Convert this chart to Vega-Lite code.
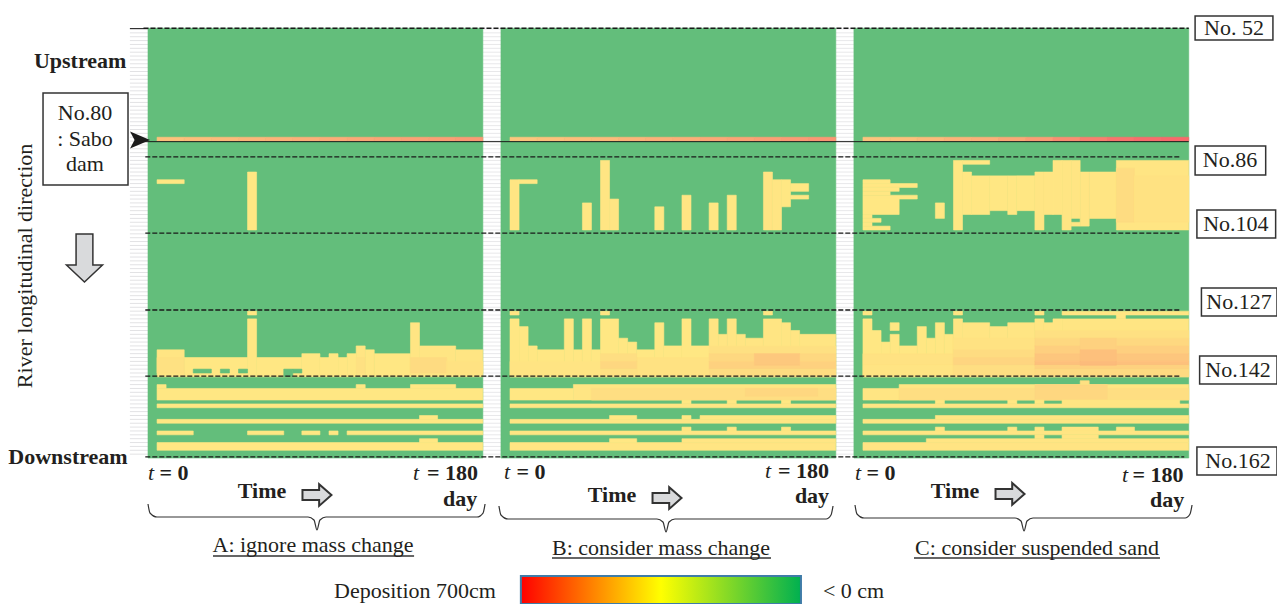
{"$schema":"https://vega.github.io/schema/vega-lite/v6.json","width":1277,"height":604,"padding":0,"autosize":{"type":"none"},"background":"white","config":{"view":{"stroke":null},"axis":{"disable":true},"legend":{"disable":true},"text":{"font":"Liberation Serif","fontSize":22,"color":"#231f20"}},
"datasets":{
"rows":[{"n":52},{"n":53},{"n":54},{"n":55},{"n":56},{"n":57},{"n":58},{"n":59},{"n":60},{"n":61},{"n":62},{"n":63},{"n":64},{"n":65},{"n":66},{"n":67},{"n":68},{"n":69},{"n":70},{"n":71},{"n":72},{"n":73},{"n":74},{"n":75},{"n":76},{"n":77},{"n":78},{"n":79},{"n":80},{"n":81},{"n":82},{"n":83},{"n":84},{"n":85},{"n":86},{"n":87},{"n":88},{"n":89},{"n":90},{"n":91},{"n":92},{"n":93},{"n":94},{"n":95},{"n":96},{"n":97},{"n":98},{"n":99},{"n":100},{"n":101},{"n":102},{"n":103},{"n":104},{"n":105},{"n":106},{"n":107},{"n":108},{"n":109},{"n":110},{"n":111},{"n":112},{"n":113},{"n":114},{"n":115},{"n":116},{"n":117},{"n":118},{"n":119},{"n":120},{"n":121},{"n":122},{"n":123},{"n":124},{"n":125},{"n":126},{"n":127},{"n":128},{"n":129},{"n":130},{"n":131},{"n":132},{"n":133},{"n":134},{"n":135},{"n":136},{"n":137},{"n":138},{"n":139},{"n":140},{"n":141},{"n":142},{"n":143},{"n":144},{"n":145},{"n":146},{"n":147},{"n":148},{"n":149},{"n":150},{"n":151},{"n":152},{"n":153},{"n":154},{"n":155},{"n":156},{"n":157},{"n":158},{"n":159},{"n":160},{"n":161},{"n":162}],
"cells":[
{"x":0,"x2":37,"n":51.8,"n2":163,"v":0},{"x":39,"x2":76,"n":51.8,"n2":163,"v":0},{"x":78,"x2":115,"n":51.8,"n2":163,"v":0},
{"x":1,"x2":4,"n":80,"n2":81,"v":460},{"x":4,"x2":7,"n":80,"n2":81,"v":470},{"x":7,"x2":10,"n":80,"n2":81,"v":480},{"x":10,"x2":13,"n":80,"n2":81,"v":490},{"x":13,"x2":16,"n":80,"n2":81,"v":500},{"x":16,"x2":19,"n":80,"n2":81,"v":510},{"x":19,"x2":22,"n":80,"n2":81,"v":520},{"x":22,"x2":25,"n":80,"n2":81,"v":530},{"x":25,"x2":28,"n":80,"n2":81,"v":540},{"x":28,"x2":31,"n":80,"n2":81,"v":550},{"x":31,"x2":34,"n":80,"n2":81,"v":555},{"x":34,"x2":37,"n":80,"n2":81,"v":565},
{"x":40,"x2":43,"n":80,"n2":81,"v":450},{"x":43,"x2":46,"n":80,"n2":81,"v":460},{"x":46,"x2":49,"n":80,"n2":81,"v":470},{"x":49,"x2":52,"n":80,"n2":81,"v":480},{"x":52,"x2":55,"n":80,"n2":81,"v":495},{"x":55,"x2":58,"n":80,"n2":81,"v":505},{"x":58,"x2":61,"n":80,"n2":81,"v":515},{"x":61,"x2":64,"n":80,"n2":81,"v":530},{"x":64,"x2":67,"n":80,"n2":81,"v":540},{"x":67,"x2":70,"n":80,"n2":81,"v":555},{"x":70,"x2":73,"n":80,"n2":81,"v":565},{"x":73,"x2":76,"n":80,"n2":81,"v":575},
{"x":79,"x2":82,"n":80,"n2":81,"v":455},{"x":82,"x2":85,"n":80,"n2":81,"v":465},{"x":85,"x2":88,"n":80,"n2":81,"v":480},{"x":88,"x2":91,"n":80,"n2":81,"v":500},{"x":91,"x2":94,"n":80,"n2":81,"v":510},{"x":94,"x2":97,"n":80,"n2":81,"v":530},{"x":97,"x2":100,"n":80,"n2":81,"v":560},{"x":100,"x2":103,"n":80,"n2":81,"v":600},{"x":103,"x2":106,"n":80,"n2":81,"v":640},{"x":106,"x2":109,"n":80,"n2":81,"v":670},{"x":109,"x2":112,"n":80,"n2":81,"v":690},{"x":112,"x2":115,"n":80,"n2":81,"v":700},
{"x":1,"x2":4,"n":91,"n2":92,"v":360},{"x":11,"x2":12,"n":89,"n2":104,"v":360},
{"x":1,"x2":4,"n":135,"n2":142,"v":365},{"x":4,"x2":11,"n":137,"n2":142,"v":360},{"x":11,"x2":12,"n":127,"n2":142,"v":360},{"x":11,"x2":12,"n":125,"n2":126,"v":360},{"x":12,"x2":17,"n":137,"n2":142,"v":360},{"x":17,"x2":19,"n":136,"n2":142,"v":360},{"x":19,"x2":20,"n":137,"n2":142,"v":360},{"x":20,"x2":21,"n":136,"n2":142,"v":360},{"x":21,"x2":22,"n":137,"n2":142,"v":360},{"x":22,"x2":23,"n":136,"n2":142,"v":360},{"x":23,"x2":24,"n":134,"n2":142,"v":365},{"x":24,"x2":25,"n":135,"n2":142,"v":360},{"x":25,"x2":29,"n":136,"n2":142,"v":360},{"x":29,"x2":30,"n":128,"n2":142,"v":365},{"x":30,"x2":34,"n":134,"n2":142,"v":365},{"x":34,"x2":37,"n":135,"n2":142,"v":365},
{"x":1,"x2":4,"n":137,"n2":141,"v":378},{"x":23,"x2":24,"n":137,"n2":141,"v":378},{"x":29,"x2":33,"n":137,"n2":141,"v":392},{"x":33,"x2":37,"n":138,"n2":141,"v":375},
{"x":5,"x2":7,"n":140,"n2":141,"v":0},{"x":8,"x2":9,"n":140,"n2":141,"v":0},{"x":10,"x2":11,"n":140,"n2":141,"v":0},{"x":15,"x2":16,"n":140,"n2":142,"v":0},{"x":16,"x2":17,"n":140,"n2":141,"v":0},
{"x":1,"x2":37,"n":145,"n2":148,"v":360},{"x":1,"x2":2,"n":144,"n2":145,"v":360},{"x":23,"x2":24,"n":144,"n2":145,"v":360},{"x":29,"x2":34,"n":144,"n2":145,"v":360},{"x":1,"x2":37,"n":149,"n2":150,"v":360},{"x":1,"x2":37,"n":153,"n2":154,"v":360},{"x":30,"x2":32,"n":152,"n2":153,"v":360},{"x":1,"x2":5,"n":156,"n2":157,"v":360},{"x":11,"x2":15,"n":156,"n2":157,"v":360},{"x":17,"x2":19,"n":156,"n2":157,"v":360},{"x":20,"x2":21,"n":156,"n2":157,"v":360},{"x":22,"x2":37,"n":156,"n2":157,"v":360},{"x":1,"x2":37,"n":159,"n2":161,"v":360},{"x":30,"x2":32,"n":158,"n2":159,"v":360},
{"x":40,"x2":41,"n":91,"n2":104,"v":365},{"x":41,"x2":43,"n":91,"n2":92,"v":360},{"x":48,"x2":49,"n":97,"n2":104,"v":360},{"x":50,"x2":51,"n":86,"n2":104,"v":365},{"x":51,"x2":52,"n":96,"n2":104,"v":365},{"x":56,"x2":57,"n":98,"n2":104,"v":360},{"x":59,"x2":60,"n":95,"n2":104,"v":365},{"x":62,"x2":63,"n":97,"n2":104,"v":360},{"x":64,"x2":65,"n":95,"n2":104,"v":360},{"x":68,"x2":69,"n":89,"n2":104,"v":370},{"x":69,"x2":70,"n":91,"n2":104,"v":365},{"x":70,"x2":71,"n":91,"n2":98,"v":360},{"x":71,"x2":73,"n":92,"n2":94,"v":360},{"x":71,"x2":73,"n":95,"n2":96,"v":360},
{"x":40,"x2":41,"n":127,"n2":142,"v":360},{"x":40,"x2":41,"n":125,"n2":126,"v":365},{"x":41,"x2":42,"n":129,"n2":142,"v":360},{"x":42,"x2":43,"n":134,"n2":142,"v":360},{"x":43,"x2":46,"n":135,"n2":142,"v":360},{"x":46,"x2":47,"n":127,"n2":142,"v":360},{"x":47,"x2":48,"n":135,"n2":142,"v":360},{"x":48,"x2":49,"n":127,"n2":142,"v":360},{"x":49,"x2":50,"n":135,"n2":142,"v":360},{"x":50,"x2":52,"n":127,"n2":142,"v":360},{"x":50,"x2":51,"n":125,"n2":126,"v":365},{"x":52,"x2":53,"n":132,"n2":142,"v":360},{"x":53,"x2":54,"n":133,"n2":142,"v":360},{"x":54,"x2":56,"n":135,"n2":142,"v":360},{"x":56,"x2":57,"n":128,"n2":142,"v":360},{"x":57,"x2":59,"n":134,"n2":142,"v":360},{"x":59,"x2":60,"n":127,"n2":142,"v":360},{"x":60,"x2":62,"n":134,"n2":142,"v":360},{"x":62,"x2":63,"n":127,"n2":142,"v":365},{"x":63,"x2":64,"n":131,"n2":142,"v":365},{"x":64,"x2":65,"n":127,"n2":142,"v":365},{"x":65,"x2":66,"n":131,"n2":142,"v":365},{"x":66,"x2":68,"n":132,"n2":142,"v":365},{"x":68,"x2":70,"n":127,"n2":142,"v":365},{"x":68,"x2":69,"n":125,"n2":126,"v":365},{"x":70,"x2":71,"n":128,"n2":142,"v":365},{"x":71,"x2":72,"n":130,"n2":142,"v":365},{"x":72,"x2":76,"n":131,"n2":142,"v":365},
{"x":40,"x2":50,"n":138,"n2":142,"v":370},{"x":54,"x2":62,"n":137,"n2":142,"v":375},{"x":50,"x2":54,"n":136,"n2":138,"v":385},{"x":50,"x2":54,"n":138,"n2":140,"v":405},{"x":50,"x2":54,"n":140,"n2":142,"v":380},{"x":62,"x2":76,"n":134,"n2":136,"v":380},{"x":62,"x2":76,"n":136,"n2":138,"v":400},{"x":62,"x2":76,"n":138,"n2":140,"v":420},{"x":62,"x2":76,"n":140,"n2":142,"v":390},{"x":67,"x2":72,"n":136,"n2":139,"v":445},
{"x":40,"x2":47,"n":145,"n2":148,"v":360},{"x":47,"x2":76,"n":144,"n2":148,"v":365},{"x":49,"x2":76,"n":145,"n2":148,"v":385},{"x":66,"x2":74,"n":145,"n2":147,"v":405},{"x":59,"x2":60,"n":148,"n2":149,"v":360},{"x":64,"x2":65,"n":148,"n2":149,"v":360},{"x":70,"x2":71,"n":148,"n2":149,"v":360},{"x":40,"x2":76,"n":149,"n2":150,"v":365},{"x":40,"x2":76,"n":153,"n2":154,"v":365},{"x":51,"x2":54,"n":152,"n2":153,"v":360},{"x":59,"x2":60,"n":152,"n2":153,"v":360},{"x":61,"x2":76,"n":152,"n2":153,"v":360},{"x":40,"x2":76,"n":156,"n2":157,"v":365},{"x":59,"x2":60,"n":155,"n2":156,"v":360},{"x":64,"x2":65,"n":155,"n2":156,"v":360},{"x":70,"x2":71,"n":155,"n2":156,"v":360},{"x":40,"x2":76,"n":159,"n2":161,"v":365},{"x":51,"x2":54,"n":158,"n2":159,"v":360},{"x":59,"x2":76,"n":158,"n2":159,"v":365},
{"x":79,"x2":82,"n":91,"n2":92,"v":360},{"x":79,"x2":85,"n":92,"n2":93,"v":360},{"x":79,"x2":83,"n":93,"n2":94,"v":360},{"x":79,"x2":82,"n":94,"n2":95,"v":360},{"x":79,"x2":85,"n":95,"n2":96,"v":360},{"x":79,"x2":83,"n":96,"n2":100,"v":360},{"x":79,"x2":80,"n":100,"n2":101,"v":360},{"x":79,"x2":81,"n":101,"n2":102,"v":360},{"x":79,"x2":80,"n":102,"n2":103,"v":360},{"x":79,"x2":82,"n":103,"n2":104,"v":360},{"x":87,"x2":88,"n":97,"n2":101,"v":360},
{"x":89,"x2":90,"n":86,"n2":104,"v":360},{"x":90,"x2":93,"n":86,"n2":87,"v":360},{"x":90,"x2":91,"n":89,"n2":100,"v":360},{"x":91,"x2":93,"n":90,"n2":100,"v":360},{"x":93,"x2":95,"n":90,"n2":99,"v":360},{"x":95,"x2":96,"n":90,"n2":100,"v":360},{"x":96,"x2":98,"n":90,"n2":99,"v":360},{"x":98,"x2":99,"n":89,"n2":104,"v":365},{"x":99,"x2":100,"n":89,"n2":100,"v":365},{"x":100,"x2":101,"n":86,"n2":100,"v":365},{"x":101,"x2":102,"n":86,"n2":104,"v":365},{"x":102,"x2":103,"n":86,"n2":101,"v":365},{"x":102,"x2":103,"n":102,"n2":103,"v":365},{"x":103,"x2":104,"n":89,"n2":103,"v":365},{"x":104,"x2":107,"n":89,"n2":101,"v":365},{"x":107,"x2":115,"n":86,"n2":104,"v":365},{"x":107,"x2":109,"n":88,"n2":102,"v":390},{"x":109,"x2":115,"n":90,"n2":102,"v":375},
{"x":79,"x2":80,"n":127,"n2":142,"v":360},{"x":79,"x2":80,"n":125,"n2":126,"v":365},{"x":80,"x2":81,"n":130,"n2":142,"v":360},{"x":81,"x2":82,"n":133,"n2":142,"v":360},{"x":82,"x2":83,"n":128,"n2":130,"v":360},{"x":82,"x2":83,"n":131,"n2":142,"v":360},{"x":83,"x2":85,"n":134,"n2":142,"v":360},{"x":85,"x2":86,"n":129,"n2":142,"v":360},{"x":86,"x2":87,"n":132,"n2":142,"v":360},{"x":87,"x2":88,"n":128,"n2":142,"v":360},{"x":88,"x2":89,"n":131,"n2":142,"v":360},{"x":89,"x2":90,"n":127,"n2":142,"v":365},{"x":89,"x2":90,"n":125,"n2":126,"v":365},{"x":90,"x2":93,"n":128,"n2":142,"v":365},{"x":93,"x2":95,"n":129,"n2":142,"v":365},{"x":95,"x2":98,"n":128,"n2":142,"v":365},{"x":98,"x2":99,"n":127,"n2":142,"v":365},{"x":98,"x2":99,"n":125,"n2":126,"v":365},{"x":99,"x2":100,"n":128,"n2":142,"v":365},{"x":100,"x2":101,"n":127,"n2":142,"v":365},{"x":101,"x2":115,"n":127,"n2":142,"v":365},{"x":101,"x2":115,"n":125,"n2":126,"v":365},{"x":107,"x2":108,"n":126,"n2":127,"v":365},
{"x":79,"x2":89,"n":136,"n2":139,"v":375},{"x":79,"x2":89,"n":139,"n2":142,"v":370},{"x":89,"x2":98,"n":132,"n2":135,"v":375},{"x":89,"x2":98,"n":135,"n2":137,"v":390},{"x":89,"x2":98,"n":137,"n2":139,"v":410},{"x":89,"x2":98,"n":139,"n2":142,"v":385},{"x":98,"x2":115,"n":130,"n2":132,"v":380},{"x":98,"x2":115,"n":132,"n2":134,"v":400},{"x":98,"x2":115,"n":134,"n2":136,"v":425},{"x":98,"x2":115,"n":136,"n2":138,"v":450},{"x":98,"x2":115,"n":138,"n2":139,"v":465},{"x":98,"x2":115,"n":139,"n2":140,"v":420},{"x":98,"x2":115,"n":140,"n2":142,"v":395},{"x":103,"x2":107,"n":132,"n2":135,"v":420},{"x":103,"x2":107,"n":135,"n2":138,"v":465},{"x":103,"x2":107,"n":138,"n2":139,"v":480},
{"x":79,"x2":83,"n":145,"n2":148,"v":365},{"x":83,"x2":115,"n":144,"n2":148,"v":365},{"x":83,"x2":115,"n":145,"n2":148,"v":385},{"x":98,"x2":106,"n":144,"n2":148,"v":405},{"x":103,"x2":104,"n":143,"n2":144,"v":380},
{"x":87,"x2":88,"n":148,"n2":149,"v":360},{"x":95,"x2":96,"n":148,"n2":149,"v":360},{"x":98,"x2":99,"n":148,"n2":149,"v":360},{"x":101,"x2":114,"n":148,"n2":149,"v":365},{"x":79,"x2":115,"n":149,"n2":150,"v":365},{"x":87,"x2":115,"n":152,"n2":153,"v":365},{"x":79,"x2":115,"n":153,"n2":154,"v":365},{"x":87,"x2":88,"n":155,"n2":156,"v":360},{"x":95,"x2":96,"n":155,"n2":156,"v":360},{"x":98,"x2":99,"n":155,"n2":156,"v":360},{"x":101,"x2":105,"n":155,"n2":156,"v":365},{"x":107,"x2":109,"n":155,"n2":156,"v":360},{"x":79,"x2":115,"n":156,"n2":157,"v":365},{"x":98,"x2":99,"n":157,"n2":158,"v":365},{"x":101,"x2":105,"n":157,"n2":158,"v":365},{"x":86,"x2":115,"n":158,"n2":159,"v":365},{"x":79,"x2":115,"n":159,"n2":161,"v":370}
],
"boxes":[{"x":-11.6,"x2":-2.21,"n":68.56,"n2":92.36},{"x":115.7,"x2":124.3,"n":48.64,"n2":54.85},{"x":115.7,"x2":123.5,"n":82.27,"n2":89.78},{"x":115.9,"x2":124.6,"n":98.83,"n2":106.08},{"x":116.4,"x2":124.75,"n":119.01,"n2":126.26},{"x":116.2,"x2":124.75,"n":136.6,"n2":143.85},{"x":115.9,"x2":124.75,"n":160.15,"n2":167.4}],
"dashes":[{"x":-0.5,"x2":115,"n":51.8},{"x":-0.3,"x2":114,"n":85.1},{"x":-0.3,"x2":114,"n":104.8},{"x":-0.3,"x2":114,"n":124.7},{"x":-0.3,"x2":114,"n":141.8},{"x":-0.3,"x2":114.5,"n":162.7}],
"solid":[{"x":-2,"x2":0,"n":51.9},{"x":-0.6,"x2":115,"n":81.15}],
"under":[{"x":7.18,"x2":29.4,"n":188.35},{"x":44.64,"x2":68.84,"n":188.87},{"x":84.64,"x2":111.82,"n":188.87}],
"regular":[{"t":"No. 52","x":120.0,"n":51.74},{"t":"No.86","x":119.56,"n":85.9},{"t":"No.104","x":120.2,"n":102.45},{"t":"No.127","x":120.55,"n":122.6},{"t":"No.142","x":120.44,"n":140.2},{"t":"No.162","x":120.44,"n":163.8},{"t":"No.80","x":-6.96,"n":73.7},{"t":": Sabo","x":-6.96,"n":80.5},{"t":"dam","x":-6.96,"n":86.9},{"t":"A: ignore mass change","x":18.23,"n":185.5},{"t":"B: consider mass change","x":56.69,"n":186.28},{"t":"C: consider suspended sand","x":98.23,"n":186.28},{"t":"Deposition 700cm","x":29.5,"n":197.4},{"t":"< 0 cm","x":77.96,"n":197.4}],
"vertical":[{"t":"River longitudinal direction","x":-13.6,"n":113.3}],
"bold":[{"t":"Upstream","x":-7.5,"n":60.3},{"t":"Downstream","x":-8.84,"n":162.7},{"t":"= 0","x":2.87,"n":166.88},{"t":"= 180","x":33.65,"n":166.88},{"t":"day","x":34.48,"n":173.6},{"t":"Time","x":12.6,"n":171.53},{"t":"= 0","x":42.32,"n":166.62},{"t":"= 180","x":72.43,"n":166.36},{"t":"day","x":73.37,"n":172.83},{"t":"Time","x":51.27,"n":172.57},{"t":"= 0","x":81.0,"n":166.88},{"t":"= 180","x":111.6,"n":167.4},{"t":"day","x":112.6,"n":173.86},{"t":"Time","x":89.17,"n":171.53}],
"italic":[{"t":"t","x":0.33,"n":166.88},{"t":"t","x":29.61,"n":166.88},{"t":"t","x":39.67,"n":166.62},{"t":"t","x":68.51,"n":166.36},{"t":"t","x":78.45,"n":166.88},{"t":"t","x":107.96,"n":167.4}],
"legendBar":[{"x":41.2,"x2":72.15,"n":193.5,"n2":200.77}],
"arrowsRight":[{"x":18.67,"n":172.57},{"x":57.35,"n":173.35},{"x":95.25,"n":172.3}],
"arrowDown":[{"x":-7.02,"n":111.25}],
"arrowDam":[{"x":-0.88,"n":80.72}],
"braces":[
{"b":"A","x":0,"n":174.9},{"b":"A","x":0.22,"n":177.23},{"b":"A","x":0.99,"n":178.26},{"b":"A","x":17.68,"n":178.26},{"b":"A","x":18.34,"n":179.04},{"b":"A","x":18.67,"n":181.62},{"b":"A","x":19.0,"n":179.04},{"b":"A","x":19.67,"n":178.26},{"b":"A","x":36.35,"n":178.26},{"b":"A","x":37.02,"n":177.23},{"b":"A","x":37.24,"n":174.9},
{"b":"B","x":38.78,"n":175.42},{"b":"B","x":39.0,"n":177.74},{"b":"B","x":39.78,"n":178.78},{"b":"B","x":56.24,"n":178.78},{"b":"B","x":56.9,"n":179.55},{"b":"B","x":57.24,"n":182.14},{"b":"B","x":57.57,"n":179.55},{"b":"B","x":58.23,"n":178.78},{"b":"B","x":74.92,"n":178.78},{"b":"B","x":75.47,"n":177.74},{"b":"B","x":75.69,"n":175.42},
{"b":"C","x":78.12,"n":175.16},{"b":"C","x":78.34,"n":177.48},{"b":"C","x":79.12,"n":178.52},{"b":"C","x":95.8,"n":178.52},{"b":"C","x":96.46,"n":179.3},{"b":"C","x":96.8,"n":181.88},{"b":"C","x":97.13,"n":179.3},{"b":"C","x":97.79,"n":178.52},{"b":"C","x":114.59,"n":178.52},{"b":"C","x":115.14,"n":177.48},{"b":"C","x":115.36,"n":175.16}]
},
"layer":[
{"data":{"name":"rows"},"mark":{"type":"rule","color":"#e2e2e4","strokeWidth":1},"encoding":{"x":{"datum":-2,"type":"quantitative","scale":{"domain":[-16.354,124.75],"range":[0,1277],"nice":false,"zero":false}},"x2":{"datum":0},"y":{"field":"n","type":"quantitative","scale":{"domain":[44.497,200.77],"range":[0,604],"nice":false,"zero":false}}}},
{"data":{"name":"rows"},"mark":{"type":"rule","color":"#e8e8ea","strokeWidth":1},"encoding":{"x":{"datum":37,"type":"quantitative"},"x2":{"datum":39},"y":{"field":"n","type":"quantitative"}}},
{"data":{"name":"rows"},"mark":{"type":"rule","color":"#e8e8ea","strokeWidth":1},"encoding":{"x":{"datum":76,"type":"quantitative"},"x2":{"datum":78},"y":{"field":"n","type":"quantitative"}}},
{"data":{"name":"cells"},"mark":{"type":"rect","strokeWidth":0.6},"encoding":{"x":{"field":"x","type":"quantitative"},"x2":{"field":"x2"},"y":{"field":"n","type":"quantitative"},"y2":{"field":"n2"},"color":{"field":"v","type":"quantitative","scale":{"domain":[0,350,700],"range":["#63BE7B","#FFEB84","#F8696B"],"interpolate":"rgb"}},"stroke":{"field":"v","type":"quantitative","scale":{"domain":[0,350,700],"range":["#63BE7B","#FFEB84","#F8696B"],"interpolate":"rgb"}}}},
{"data":{"name":"dashes"},"mark":{"type":"rule","color":"#1a1a1a","strokeWidth":1.3,"strokeDash":[5,2]},"encoding":{"x":{"field":"x","type":"quantitative"},"x2":{"field":"x2"},"y":{"field":"n","type":"quantitative"}}},
{"data":{"name":"solid"},"mark":{"type":"rule","color":"#1a1a1a","strokeWidth":1},"encoding":{"x":{"field":"x","type":"quantitative"},"x2":{"field":"x2"},"y":{"field":"n","type":"quantitative"}}},
{"data":{"name":"boxes"},"mark":{"type":"rect","fill":"white","stroke":"#333333","strokeWidth":1.5},"encoding":{"x":{"field":"x","type":"quantitative"},"x2":{"field":"x2"},"y":{"field":"n","type":"quantitative"},"y2":{"field":"n2"}}},
{"data":{"name":"under"},"mark":{"type":"rule","color":"#333333","strokeWidth":1.3},"encoding":{"x":{"field":"x","type":"quantitative"},"x2":{"field":"x2"},"y":{"field":"n","type":"quantitative"}}},
{"data":{"name":"braces"},"mark":{"type":"line","color":"#333333","strokeWidth":1.2,"interpolate":"monotone"},"encoding":{"x":{"field":"x","type":"quantitative"},"y":{"field":"n","type":"quantitative"},"detail":{"field":"b"}}},
{"data":{"name":"legendBar"},"mark":{"type":"rect","stroke":"#3f7ca8","strokeWidth":2,"color":{"gradient":"linear","stops":[{"offset":0,"color":"#ff0000"},{"offset":0.5,"color":"#ffff00"},{"offset":1,"color":"#00b050"}]}},"encoding":{"x":{"field":"x","type":"quantitative"},"x2":{"field":"x2"},"y":{"field":"n","type":"quantitative"},"y2":{"field":"n2"}}},
{"data":{"name":"regular"},"mark":{"type":"text","align":"center","baseline":"middle"},"encoding":{"x":{"field":"x","type":"quantitative"},"y":{"field":"n","type":"quantitative"},"text":{"field":"t"}}},
{"data":{"name":"vertical"},"mark":{"type":"text","align":"center","baseline":"middle","angle":270},"encoding":{"x":{"field":"x","type":"quantitative"},"y":{"field":"n","type":"quantitative"},"text":{"field":"t"}}},
{"data":{"name":"bold"},"mark":{"type":"text","align":"center","baseline":"middle","fontWeight":"bold"},"encoding":{"x":{"field":"x","type":"quantitative"},"y":{"field":"n","type":"quantitative"},"text":{"field":"t"}}},
{"data":{"name":"italic"},"mark":{"type":"text","align":"center","baseline":"middle","fontStyle":"italic"},"encoding":{"x":{"field":"x","type":"quantitative"},"y":{"field":"n","type":"quantitative"},"text":{"field":"t"}}},
{"data":{"name":"arrowsRight"},"mark":{"type":"point","filled":true,"fill":"#d9dadc","stroke":"#333333","strokeWidth":2,"opacity":1,"size":841,"shape":"M-1,-0.35L0.15,-0.35L0.15,-0.75L1,0L0.15,0.75L0.15,0.35L-1,0.35Z"},"encoding":{"x":{"field":"x","type":"quantitative"},"y":{"field":"n","type":"quantitative"}}},
{"data":{"name":"arrowDown"},"mark":{"type":"point","filled":true,"fill":"#d9dadc","stroke":"#333333","strokeWidth":1.5,"opacity":1,"size":2304,"shape":"M-0.35,-1L0.35,-1L0.35,0.29L0.75,0.29L0,1L-0.75,0.29L-0.35,0.29Z"},"encoding":{"x":{"field":"x","type":"quantitative"},"y":{"field":"n","type":"quantitative"}}},
{"data":{"name":"arrowDam"},"mark":{"type":"point","filled":true,"fill":"#1a1a1a","stroke":null,"opacity":1,"size":400,"shape":"M1,0L-1,-0.85L-0.55,0L-1,0.85Z"},"encoding":{"x":{"field":"x","type":"quantitative"},"y":{"field":"n","type":"quantitative"}}}
]}
